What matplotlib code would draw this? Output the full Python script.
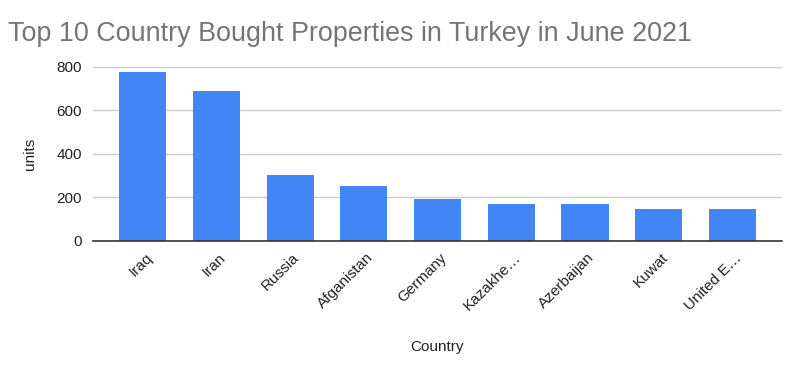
import matplotlib
matplotlib.use("Agg")
import matplotlib.pyplot as plt
from matplotlib.transforms import ScaledTranslation

plt.rcParams['font.family'] = ['Liberation Sans', 'DejaVu Sans']

countries = ["Iraq", "Iran", "Russia", "Afganistan", "Germany", "Kazakhe…",
             "Azerbaijan", "Kuwat", "United E…"]
units = [774, 688, 302, 253, 191, 167, 167, 147, 147]
yticks = [0, 200, 400, 600, 800]

fig = plt.figure(figsize=(8, 3.71), dpi=100)
ax = fig.add_axes([0.116, 0.351, 0.8615, 0.469])

x = list(range(len(countries)))
ax.bar(x, units, width=0.64, color="#4285F4", zorder=3)

ax.set_ylim(0, 800)
ax.set_xlim(-0.68, len(countries) - 1 + 0.675)
ax.set_yticks(yticks)
ax.set_yticklabels([str(v) for v in yticks], fontsize=11, color="#222222")
ax.yaxis.grid(True, color="#cccccc", linewidth=1, zorder=0)
ax.tick_params(axis='y', length=0, pad=8)
ax.tick_params(axis='x', length=0, pad=7)

ax.set_xticks(x)
ax.set_xticklabels(countries, rotation=45, ha='right', rotation_mode='anchor',
                   fontsize=11, color="#222222")
offset = ScaledTranslation(1.5 / 72, 0, fig.dpi_scale_trans)
for lab in ax.get_xticklabels():
    lab.set_transform(lab.get_transform() + offset)

for s in ['top', 'right', 'left']:
    ax.spines[s].set_visible(False)
ax.spines['bottom'].set_color("#333333")
ax.spines['bottom'].set_linewidth(1.2)
ax.spines['bottom'].set_zorder(4)

ax.set_ylabel("units", fontsize=11, color="#222222", labelpad=14)
ax.set_xlabel("Country", fontsize=11, color="#222222", labelpad=19)

fig.text(0.01, 0.89, "Top 10 Country Bought Properties in Turkey in June 2021",
         fontsize=19.4, color="#757575", ha='left', va='baseline')

fig.savefig("out.png", dpi=100)
